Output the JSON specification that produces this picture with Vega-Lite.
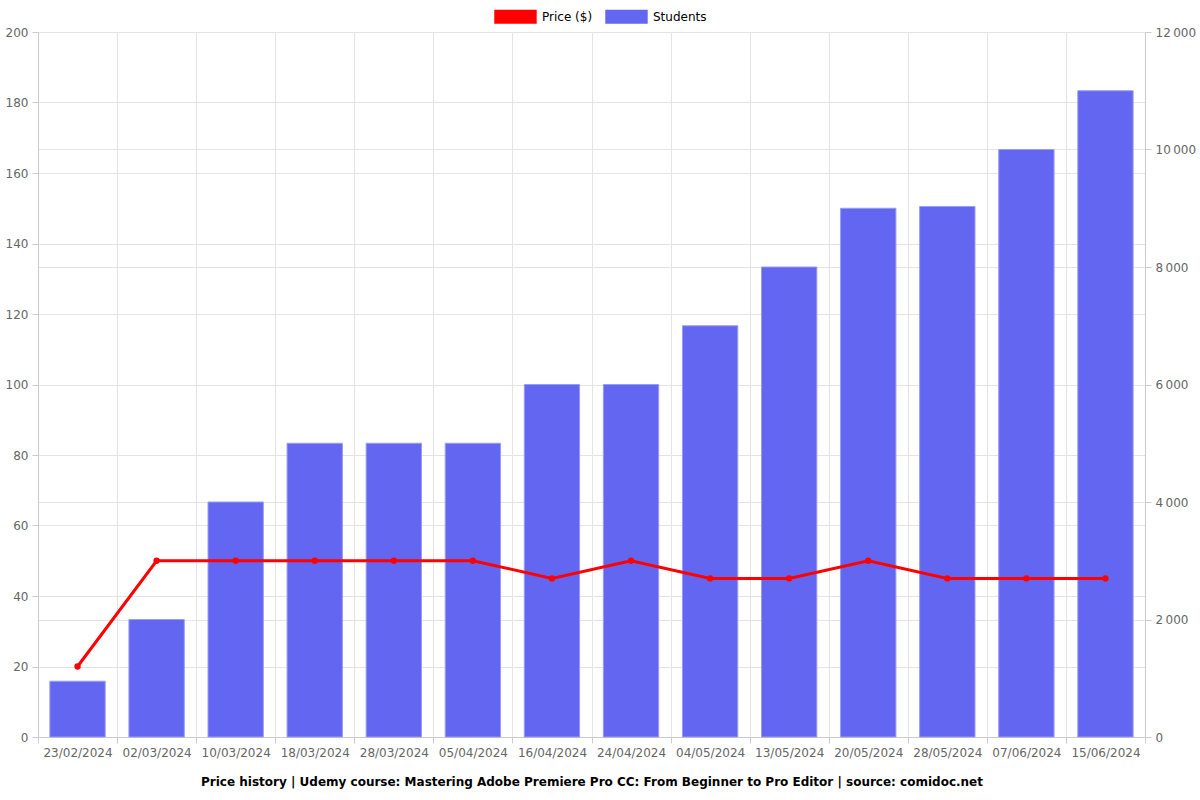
{
  "$schema": "https://vega.github.io/schema/vega-lite/v6.json",
  "width": 1107,
  "height": 705,
  "autosize": {"type": "none"},
  "padding": {"left": 38, "top": 32, "right": 55, "bottom": 63},
  "background": "white",
  "config": {
    "font": "DejaVu Sans",
    "view": {"stroke": null},
    "axis": {
      "labelFont": "DejaVu Sans",
      "labelFontSize": 12,
      "labelColor": "#666666",
      "domainColor": "#cccccc",
      "tickColor": "#cccccc",
      "gridColor": "#e4e4e4",
      "tickSize": 6
    }
  },
  "data": {
    "values": [
      {"date": "23/02/2024", "price": 20, "students": 950},
      {"date": "02/03/2024", "price": 50, "students": 2000},
      {"date": "10/03/2024", "price": 50, "students": 4000},
      {"date": "18/03/2024", "price": 50, "students": 5000},
      {"date": "28/03/2024", "price": 50, "students": 5000},
      {"date": "05/04/2024", "price": 50, "students": 5000},
      {"date": "16/04/2024", "price": 45, "students": 6000},
      {"date": "24/04/2024", "price": 50, "students": 6000},
      {"date": "04/05/2024", "price": 45, "students": 7000},
      {"date": "13/05/2024", "price": 45, "students": 8000},
      {"date": "20/05/2024", "price": 50, "students": 9000},
      {"date": "28/05/2024", "price": 45, "students": 9030},
      {"date": "07/06/2024", "price": 45, "students": 10000},
      {"date": "15/06/2024", "price": 45, "students": 11000}
    ]
  },
  "encoding": {
    "x": {
      "field": "date",
      "type": "nominal",
      "sort": null,
      "scale": {"paddingInner": 0, "paddingOuter": 0},
      "axis": {
        "title": "Price history | Udemy course: Mastering Adobe Premiere Pro CC: From Beginner to Pro Editor | source: comidoc.net",
        "titleFont": "DejaVu Sans",
        "titleFontSize": 12,
        "titleFontWeight": "bold",
        "titleColor": "#000000",
        "titlePadding": 18,
        "labelAngle": 0,
        "labelPadding": 4,
        "tickBand": "extent",
        "grid": true,
        "domain": true
      }
    }
  },
  "layer": [
    {
      "mark": {"type": "bar", "color": "#6366F1", "stroke": "#9a9cf6", "strokeWidth": 1, "width": {"band": 0.7}},
      "encoding": {
        "y": {
          "field": "students",
          "type": "quantitative",
          "scale": {"domain": [0, 12000], "nice": false},
          "axis": {
            "orient": "right",
            "title": null,
            "values": [0, 2000, 4000, 6000, 8000, 10000, 12000],
            "labelExpr": "replace(format(datum.value, ','), ',', '\u2009')",
            "grid": true,
            "domain": true,
            "labelPadding": 4
          }
        },
        "color": {
          "datum": "Students",
          "type": "nominal",
          "scale": {"domain": ["Price ($)", "Students"], "range": ["#ff0000", "#6366F1"]},
          "legend": {
            "title": null,
            "orient": "none",
            "legendX": 456,
            "legendY": -37,
            "direction": "horizontal",
            "symbolType": "M-1,-0.33H1V0.33H-1Z",
            "symbolSize": 1800,
            "symbolStrokeWidth": 0,
            "labelFontSize": 12,
            "labelColor": "#000000",
            "labelFont": "DejaVu Sans",
            "labelOffset": 5,
            "columnPadding": 12
          }
        }
      }
    },
    {
      "mark": {"type": "line", "color": "#ff0000", "strokeWidth": 3, "point": {"filled": true, "size": 40, "color": "#ff0000"}},
      "encoding": {
        "y": {
          "field": "price",
          "type": "quantitative",
          "scale": {"domain": [0, 200], "nice": false},
          "axis": {
            "orient": "left",
            "title": null,
            "values": [0, 20, 40, 60, 80, 100, 120, 140, 160, 180, 200],
            "grid": true,
            "domain": true,
            "labelPadding": 4
          }
        },
        "color": {"datum": "Price ($)", "type": "nominal"}
      }
    }
  ],
  "resolve": {"scale": {"y": "independent"}}
}
